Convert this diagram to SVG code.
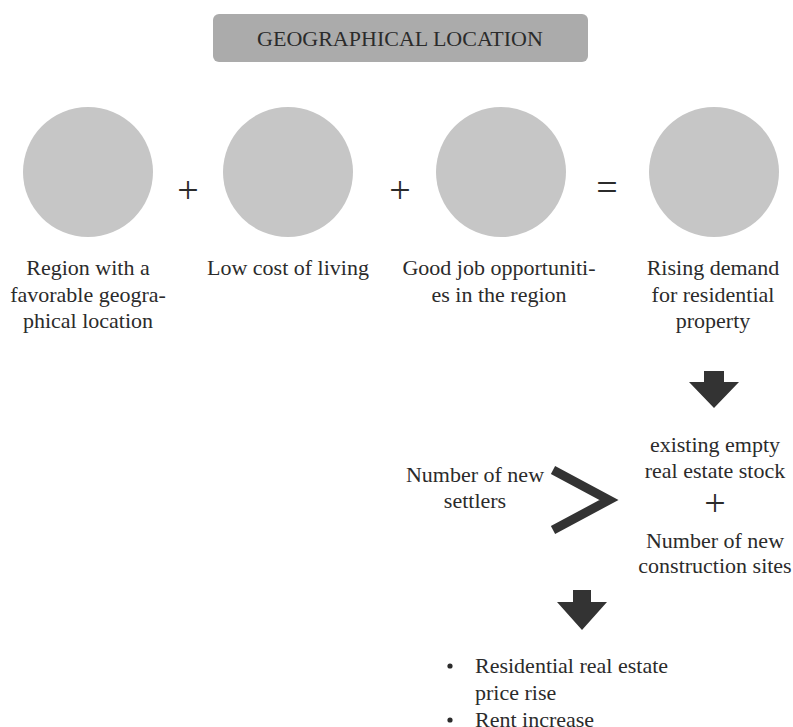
<svg xmlns="http://www.w3.org/2000/svg" width="793" height="727" viewBox="0 0 793 727">
  <style>
    .t { font-family: 'Liberation Serif', serif; font-size: 22px; fill: #2b2b2b; text-anchor: middle; }
    .tl { font-family: 'Liberation Serif', serif; font-size: 22px; fill: #2b2b2b; }
    .op { font-family: 'Liberation Serif', serif; font-size: 38px; fill: #2b2b2b; text-anchor: middle; }
    .circ { fill: #c6c6c6; }
    .dot { fill: #2b2b2b; }
    .arrow { fill: #333333; }
  </style>
  <rect width="793" height="727" fill="#ffffff"/>

  <g id="title">
    <rect x="213" y="14" width="375" height="48" rx="6" fill="#ababab"/>
    <text class="t" x="400" y="46">GEOGRAPHICAL LOCATION</text>
  </g>

  <g id="node-region">
    <circle class="circ" cx="88" cy="172" r="65"/>
    <text class="t" x="88" y="275">Region with a</text>
    <text class="t" x="88" y="302">favorable geogra-</text>
    <text class="t" x="88" y="328">phical location</text>
  </g>

  <g id="node-cost">
    <circle class="circ" cx="288" cy="172" r="65"/>
    <text class="t" x="288" y="275">Low cost of living</text>
  </g>

  <g id="node-jobs">
    <circle class="circ" cx="501" cy="172" r="65"/>
    <text class="t" x="499" y="275">Good job opportuniti-</text>
    <text class="t" x="499" y="302">es in the region</text>
  </g>

  <g id="node-demand">
    <circle class="circ" cx="714" cy="172" r="65"/>
    <text class="t" x="713" y="275">Rising demand</text>
    <text class="t" x="713" y="302">for residential</text>
    <text class="t" x="713" y="328">property</text>
  </g>

  <g id="operators">
    <text class="op" x="188" y="203">+</text>
    <text class="op" x="400" y="203">+</text>
    <text class="op" x="607" y="200">=</text>
  </g>

  <g id="node-settlers">
    <text class="t" x="475" y="482">Number of new</text>
    <text class="t" x="475" y="508">settlers</text>
  </g>

  <g id="greater-than">
    <polyline points="553,470 609,500 553,530" fill="none" stroke="#333333" stroke-width="9" stroke-linejoin="miter"/>
  </g>

  <g id="node-supply">
    <text class="t" x="715" y="452">existing empty</text>
    <text class="t" x="715" y="478">real estate stock</text>
    <text class="op" x="715" y="516">+</text>
    <text class="t" x="715" y="548">Number of new</text>
    <text class="t" x="715" y="573">construction sites</text>
  </g>

  <g id="node-effects">
    <!-- list markers -->
    <circle class="dot" cx="450" cy="666" r="2.6"/>
    <circle class="dot" cx="450" cy="720" r="2.6"/>
    <text class="tl" x="475" y="673">Residential real estate</text>
    <text class="tl" x="475" y="700">price rise</text>
    <text class="tl" x="475" y="727">Rent increase</text>
  </g>

  <g id="connectors">
    <polygon class="arrow" points="704,371 724,371 724,382 739,382 714,408 689,382 704,382"/>
    <polygon class="arrow" points="573,590 591,590 591,602 607,602 582,630 557,602 573,602"/>
  </g>
</svg>
